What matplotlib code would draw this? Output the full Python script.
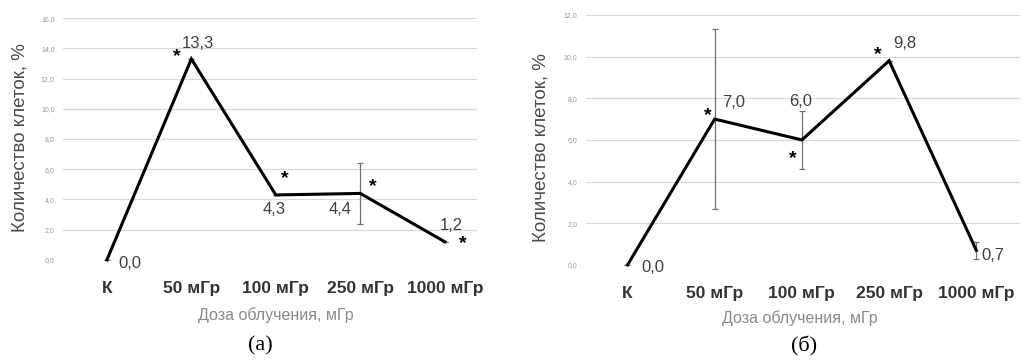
import matplotlib.pyplot as plt

# -------------------------
# Dados
# -------------------------

categorias = ["К", "50 мГр", "100 мГр", "250 мГр", "1000 мГр"]

valores_a = [0.0, 13.3, 4.3, 4.4, 1.2]
erros_a = [0.0, 0.0, 0.0, 2.0, 0.0]
asteriscos_a = [False, True, True, True, True]

valores_b = [0.0, 7.0, 6.0, 9.8, 0.7]
erros_b = [0.0, 4.3, 1.4, 0.0, 0.4]
asteriscos_b = [False, True, True, True, False]

ticks_a = [0, 2, 4, 6, 8, 10, 12, 14, 16]
ticks_b = [0, 2, 4, 6, 8, 10, 12]

# deslocamentos (pixels) dos rótulos e asteriscos
off_lab_a = [(23, -4), (7, 15), (-2, -15), (-20, -16), (7, 16)]
off_ast_a = [(0, 0), (-15, 2), (9, 16), (12, 7), (18, -2)]
off_lab_b = [(25, -3), (19, 17), (-1, 38), (16, 17), (17, -5)]
off_ast_b = [(0, 0), (-7, 4), (-9, -19), (-11, 6), (0, 0)]

fonte = "Liberation Sans"
cinza_txt = "#404040"


def desenhar(ax, valores, erros, asteriscos, ticks, off_lab, off_ast, xlim):
    x = list(range(len(categorias)))

    for t in ticks:
        ax.axhline(t, color="#d9d9d9", lw=0.9, zorder=0)

    ax.errorbar(x, valores, yerr=erros, fmt="none", ecolor="#707070",
                elinewidth=0.9, capsize=2.5, capthick=0.9, zorder=2)
    ax.plot(x, valores, color="black", lw=2.2, zorder=3,
            solid_joinstyle="miter", clip_on=False)

    for i, v in enumerate(valores):
        ax.annotate(f"{v:.1f}".replace(".", ","), (i, v),
                    xytext=off_lab[i], textcoords="offset pixels",
                    ha="center", va="center", fontsize=12,
                    family=fonte, color=cinza_txt)
        if asteriscos[i]:
            ax.annotate("*", (i, v), xytext=off_ast[i],
                        textcoords="offset pixels", ha="center",
                        va="center", fontsize=14, fontweight="bold",
                        family=fonte, color="black")

    ax.set_xlim(*xlim)
    ax.set_ylim(ticks[0], ticks[-1])
    ax.set_yticks(ticks)
    ax.set_yticklabels([f"{t:.1f}".replace(".", ",") for t in ticks],
                       fontsize=5, color="#9a9a9a", family=fonte)
    ax.set_xticks(x)
    ax.set_xticklabels(categorias, fontsize=12.5, fontweight="bold",
                       color="#333333", family=fonte)
    ax.tick_params(axis="x", length=0, pad=15)
    ax.tick_params(axis="y", length=0, pad=6)
    for s in ax.spines.values():
        s.set_visible(False)


# -------------------------
# Figura
# -------------------------

fig = plt.figure(figsize=(10.22, 3.63), dpi=100)

ax1 = fig.add_axes([0.0616, 0.284, 0.405, 0.666])
desenhar(ax1, valores_a, erros_a, asteriscos_a, ticks_a,
         off_lab_a, off_ast_a, (-0.52, 4.38))

ax2 = fig.add_axes([0.573, 0.270, 0.425, 0.689])
desenhar(ax2, valores_b, erros_b, asteriscos_b, ticks_b,
         off_lab_b, off_ast_b, (-0.48, 4.5))

# títulos dos eixos
fig.text(20 / 1022, 1 - 138 / 363, "Количество клеток, %", rotation=90,
         ha="center", va="center", fontsize=13.5, color="#4a4a4a",
         family=fonte)
fig.text(541 / 1022, 1 - 148 / 363, "Количество клеток, %", rotation=90,
         ha="center", va="center", fontsize=13.5, color="#4a4a4a",
         family=fonte)

fig.text(276 / 1022, 1 - 315 / 363, "Доза облучения, мГр",
         ha="center", va="center", fontsize=11.5, color="#8a8a8a",
         family=fonte)
fig.text(800 / 1022, 1 - 318 / 363, "Доза облучения, мГр",
         ha="center", va="center", fontsize=11.5, color="#8a8a8a",
         family=fonte)

# legendas (a) e (б)
fig.text(260 / 1022, 1 - 346 / 363, "(a)", ha="center", va="center",
         fontsize=16, family="Liberation Serif", color="black")
fig.text(804 / 1022, 1 - 346 / 363, "(б)", ha="center", va="center",
         fontsize=16, family="Liberation Serif", color="black")

fig.savefig("out.png", dpi=100)
